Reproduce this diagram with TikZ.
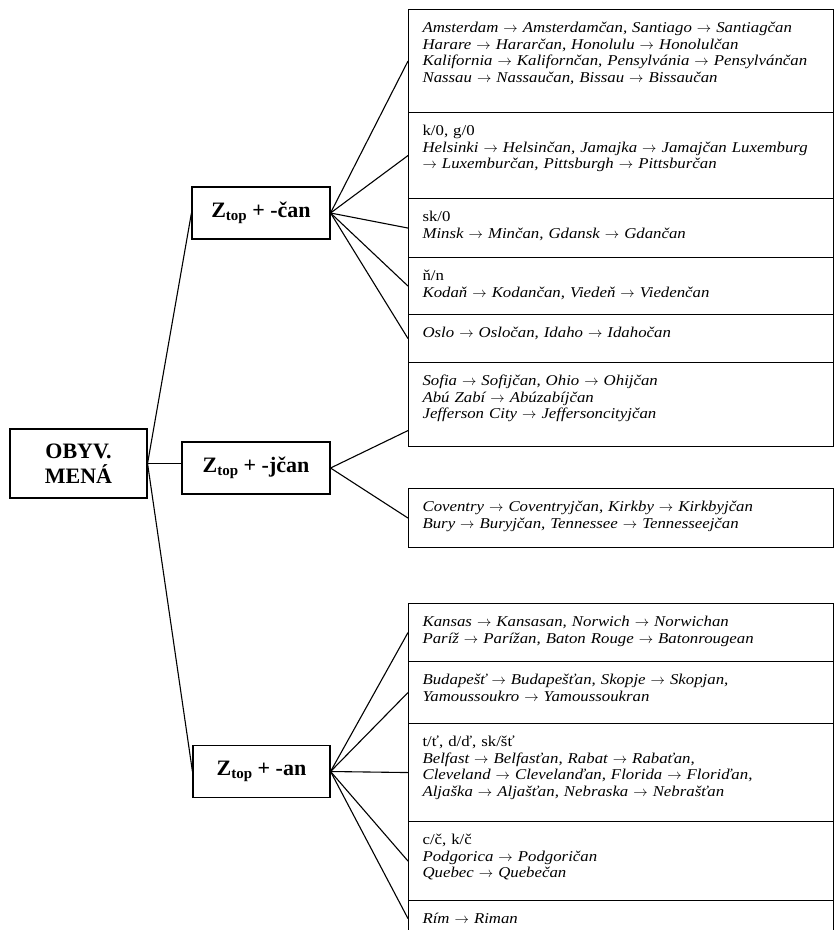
\documentclass[tikz,border=0pt]{standalone}
\usepackage{fontspec}
\setmainfont{Liberation Serif}
\newfontfamily\exfont[FakeStretch=1.12]{Liberation Serif}
\usetikzlibrary{calc}

\newcommand{\ztop}{Z\raisebox{-0.35ex}{\fontsize{15}{15}\selectfont top}}
\newcommand{\tto}{\ensuremath{\rightarrow}}

\begin{document}
\begin{tikzpicture}[x=1pt, y=-1pt, line width=1.1pt,
    head/.style={draw, minimum height=52pt, font=\bfseries\fontsize{22}{25}\selectfont},
    ex/.style={draw, anchor=north west, text width=397pt, inner xsep=14pt, inner ysep=0pt,
               text height=23pt, align=left, font=\exfont\fontsize{15}{16.7}\selectfont}]
    \useasboundingbox (0,0) rectangle (835,930);
    \clip (0,0) rectangle (835,930);

    \node[head, minimum width=137pt, minimum height=69pt, align=center] at (78.5,463.5) (mena) {OBYV.\\MENÁ};
    \node[head, minimum width=138pt] at (261,213)   (can)  {\ztop{} + -čan};
    \node[head, minimum width=148pt] at (256,468)   (jcan) {\ztop{} + -jčan};
    \node[head, minimum width=137pt] at (261.5,771.5) (an) {\ztop{} + -an};

    \node[ex, text depth=80pt] at (408,9)   (c1) {\itshape Amsterdam \tto{} Amsterdamčan, Santiago \tto{} Santiagčan\\
        Harare \tto{} Hararčan, Honolulu \tto{} Honolulčan\\
        Kalifornia \tto{} Kalifornčan, Pensylvánia \tto{} Pensylvánčan\\
        Nassau \tto{} Nassaučan, Bissau \tto{} Bissaučan};
    \node[ex, text depth=63pt] at (408,112) (c2) {k/0, g/0\\
        \itshape Helsinki \tto{} Helsinčan, Jamajka \tto{} Jamajčan Luxemburg\\
        \tto{} Luxemburčan, Pittsburgh \tto{} Pittsburčan};
    \node[ex, text depth=36pt] at (408,198) (c3) {sk/0\\
        \itshape Minsk \tto{} Minčan, Gdansk \tto{} Gdančan};
    \node[ex, text depth=34pt] at (408,257) (c4) {ň/n\\
        \itshape Kodaň \tto{} Kodančan, Viedeň \tto{} Viedenčan};
    \node[ex, text depth=25pt] at (408,314) (c5) {\itshape Oslo \tto{} Osločan, Idaho \tto{} Idahočan};

    \node[ex, text depth=61pt] at (408,362) (j1) {\itshape Sofia \tto{} Sofijčan, Ohio \tto{} Ohijčan\\
        Abú Zabí \tto{} Abúzabíjčan\\
        Jefferson City \tto{} Jeffersoncityjčan};
    \node[ex, text depth=36pt] at (408,488) (j2) {\itshape Coventry \tto{} Coventryjčan, Kirkby \tto{} Kirkbyjčan\\
        Bury \tto{} Buryjčan, Tennessee \tto{} Tennesseejčan};

    \node[ex, text depth=35pt] at (408,603) (a1) {\itshape Kansas \tto{} Kansasan, Norwich \tto{} Norwichan\\
        Paríž \tto{} Parížan, Baton Rouge \tto{} Batonrougean};
    \node[ex, text depth=39pt] at (408,661) (a2) {\itshape Budapešť \tto{} Budapešťan, Skopje \tto{} Skopjan,\\
        Yamoussoukro \tto{} Yamoussoukran};
    \node[ex, text depth=75pt] at (408,723) (a3) {t/ť, d/ď, sk/šť\\
        \itshape Belfast \tto{} Belfasťan, Rabat \tto{} Rabaťan,\\
        Cleveland \tto{} Clevelanďan, Florida \tto{} Floriďan,\\
        Aljaška \tto{} Aljašťan, Nebraska \tto{} Nebrašťan};
    \node[ex, text depth=56pt] at (408,821) (a4) {c/č, k/č\\
        \itshape Podgorica \tto{} Podgoričan\\
        Quebec \tto{} Quebečan};
    \node[ex, text depth=13pt] at (408,900) (a5) {\itshape Rím \tto{} Riman};

    \draw (mena.east) -- (can.west);
    \draw (mena.east) -- (mena.east -| jcan.west);
    \draw (mena.east) -- (an.west);
    \foreach \b in {c1,c2,c3,c4,c5}
        \draw (can.east) -- (\b.west);
    \draw (jcan.east) -- ([yshift=-26pt]j1.west);
    \draw (jcan.east) -- (j2.west);
    \foreach \b in {a1,a2,a3,a4,a5}
        \draw (an.east) -- (\b.west);
\end{tikzpicture}
\end{document}
